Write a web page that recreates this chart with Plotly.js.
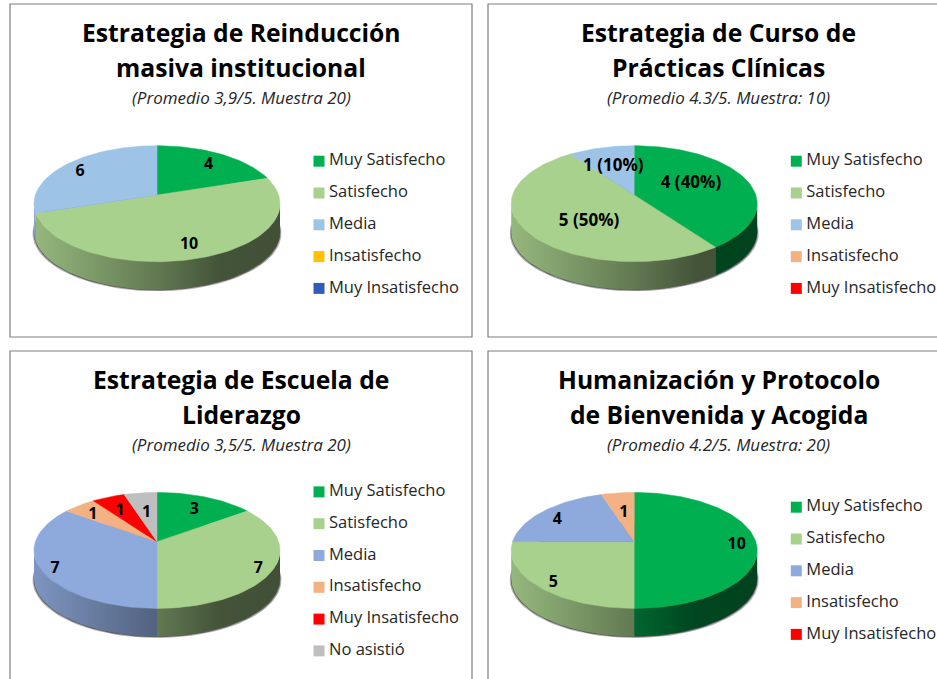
<!DOCTYPE html>
<html><head><meta charset="utf-8">
<script src="https://cdn.plot.ly/plotly-3.0.1.min.js"></script>
<style>html,body{margin:0;padding:0;background:#fff;overflow:hidden}#g{width:937px;height:679px}</style>
</head><body><div id="g"></div>
<script>
// ---- data ----
const categoriesA = ["Muy Satisfecho","Satisfecho","Media","Insatisfecho","Muy Insatisfecho"];
const categoriesC = ["Muy Satisfecho","Satisfecho","Media","Insatisfecho","Muy Insatisfecho","No asistió"];
const valuesReinduccion = [4,10,6,0,0];
const valuesPracticas   = [4,5,1,0,0];
const valuesLiderazgo   = [3,7,7,1,1,1];
const valuesHumanizacion= [10,5,4,1,0];
const colorsReinduccion = ["#00B050","#A9D18E","#9DC3E6","#FFC000","#2F5DB5"];
const colorsPracticas   = ["#00B050","#A9D18E","#9DC3E6","#F4B183","#FF0000"];
const colorsLiderazgo   = ["#00B050","#A9D18E","#8EA9DB","#F4B183","#FF0000","#BFBFBF"];
const colorsHumanizacion= ["#00B050","#A9D18E","#8EA9DB","#F4B183","#FF0000"];
const titleReinduccion = ["Estrategia de Reinducción","masiva institucional"];
const titlePracticas   = ["Estrategia de Curso de","Prácticas Clínicas"];
const titleLiderazgo   = ["Estrategia de Escuela de","Liderazgo"];
const titleHumanizacion= ["Humanización y Protocolo","de Bienvenida y Acogida"];
const subReinduccion = "(Promedio 3,9/5. Muestra 20)";
const subPracticas   = "(Promedio 4.3/5. Muestra: 10)";
const subLiderazgo   = "(Promedio 3,5/5. Muestra 20)";
const subHumanizacion= "(Promedio 4.2/5. Muestra: 20)";

// ---- layout constants ----
const W=937,H=679,FONT='"Open Sans", "Noto Sans", sans-serif';
const b=121.6,a=56.7,k=0.15,DEPTH=28,RX=123;
const panels=[
 {cats:categoriesA,vals:valuesReinduccion,cols:colorsReinduccion,title:titleReinduccion,sub:subReinduccion,pct:false,
  cx:157,cy:195,tx:241,ty:32.8,lx:319,ly:161.2,box:[10,4,472,337],
  lab:[[.755,1.8],[.79,.8],[.813,-2.2]]},
 {cats:categoriesA,vals:valuesPracticas,cols:colorsPracticas,title:titlePracticas,sub:subPracticas,pct:true,
  cx:634.2,cy:195,tx:718.8,ty:32.8,lx:796.3,ly:161.2,box:[488,4,960,337],
  lab:[[.536,-7.7],[.541,-13.9],[.59,-.4]]},
 {cats:categoriesC,vals:valuesLiderazgo,cols:colorsLiderazgo,title:titleLiderazgo,sub:subLiderazgo,pct:false,
  cx:157,cy:541.7,tx:241,ty:379.5,lx:319,ly:491.9,box:[10,351,472,700],
  lab:[[.715,1],[.89,1.8],[.895,-1.7],[.788,-1.5],[.713,-.8],[.596,0]]},
 {cats:categoriesA,vals:valuesHumanizacion,cols:colorsHumanizacion,title:titleHumanizacion,sub:subHumanizacion,pct:false,
  cx:634.2,cy:541.7,tx:718.8,ty:379.5,lx:796.3,ly:507.2,box:[488,351,960,700],
  lab:[[.839,2.7],[.877,-1.7],[.805,-2.9],[.596,0]]}
];
const ROW=31.8, PX0=-135,PX1=135,PY0=-60,PY1=100;

function proj(deg,r){
  const t=deg*Math.PI/180,u=r*Math.sin(t),v=-r*Math.cos(t),d=1-k*v;
  return [b*u/d,a*v/d];
}
function arc(s,e){const n=Math.max(2,Math.ceil((e-s)/2)),o=[];for(let i=0;i<=n;i++)o.push(s+(e-s)*i/n);return o;}
function shade(hex,f){
  const n=parseInt(hex.slice(1),16);
  return `rgb(${Math.round((n>>16&255)*f)},${Math.round((n>>8&255)*f)},${Math.round((n&255)*f)})`;
}
const WALL0deg=90+Math.asin(k)*180/Math.PI, WALL1deg=270-Math.asin(k)*180/Math.PI;

const traces=[],annotations=[],shapes=[],layout={};
panels.forEach((p,i)=>{
  const id=2*i+1, xP=id===1?'x':'x'+id, yP=id===1?'y':'y'+id, xL='x'+(id+1), yL='y'+(id+1);
  const kx=id===1?'xaxis':'xaxis'+id, ky=id===1?'yaxis':'yaxis'+id;
  layout[kx]={domain:[(p.cx+PX0)/W,(p.cx+PX1)/W],range:[PX0,PX1],visible:false,fixedrange:true,anchor:yP};
  layout[ky]={domain:[1-(p.cy+PY1)/H,1-(p.cy+PY0)/H],range:[PY1,PY0],visible:false,fixedrange:true,anchor:xP};
  const n=p.cats.length, top=p.ly-ROW/2;
  layout['xaxis'+(id+1)]={domain:[(p.lx-10)/W,Math.min(1,(p.lx+20)/W)],range:[-10,20],visible:false,fixedrange:true,anchor:yL};
  layout['yaxis'+(id+1)]={domain:[1-(top+n*ROW)/H,1-top/H],type:'category',categoryorder:'array',categoryarray:p.cats,range:[n-.5,-.5],visible:false,fixedrange:true,anchor:xL};

  const rim=arc(0,360).map(d=>proj(d,1));
  [[1.012,DEPTH+1.6,.35],[1.004,DEPTH+.8,.6]].forEach(([s,off,op])=>{
    traces.push({type:'scatter',mode:'lines',xaxis:xP,yaxis:yP,x:rim.map(q=>q[0]*s),y:rim.map(q=>q[1]+off),
      fill:'toself',fillcolor:`rgba(40,40,40,${op})`,line:{width:0},hoverinfo:'skip',showlegend:false});
  });

  const total=p.vals.reduce((s,v)=>s+v,0);
  let acc=0;
  const spans=p.vals.map(v=>{const s=acc/total*360;acc+=v;return [s,acc/total*360];});

  p.vals.forEach((v,j)=>{
    if(!v)return;
    const s=Math.max(spans[j][0],WALL0deg), e=Math.min(spans[j][1],WALL1deg);
    if(e<=s)return;
    const pts=arc(s,e).map(d=>proj(d,1));
    const xs=pts.map(q=>q[0]).concat(pts.map(q=>q[0]).reverse());
    const ys=pts.map(q=>q[1]).concat(pts.map(q=>q[1]+DEPTH).reverse());
    const c=p.cols[j];
    traces.push({type:'scatter',mode:'lines',xaxis:xP,yaxis:yP,x:xs,y:ys,fill:'toself',line:{width:0},
      fillgradient:{type:'horizontal',start:-RX,stop:RX,
        colorscale:[[0,shade(c,.88)],[.5,shade(c,.58)],[.75,shade(c,.4)],[1,shade(c,.38)]]},
      hoverinfo:'skip',showlegend:false});
  });

  p.vals.forEach((v,j)=>{
    if(!v)return;
    const pts=arc(spans[j][0],spans[j][1]).map(d=>proj(d,1));
    traces.push({type:'scatter',mode:'lines',xaxis:xP,yaxis:yP,
      x:[0].concat(pts.map(q=>q[0]),[0]),y:[0].concat(pts.map(q=>q[1]),[0]),
      fill:'toself',fillcolor:p.cols[j],line:{width:.5,color:p.cols[j]},
      name:p.cats[j],hovertemplate:p.cats[j]+': '+v+'<extra></extra>',showlegend:false});
  });

  const lx=[],ly=[],lt=[];
  let li=0;
  p.vals.forEach((v,j)=>{
    if(!v)return;
    const [r,nudge]=p.lab[li++];
    const q=proj((spans[j][0]+spans[j][1])/2+nudge,r);
    lx.push(q[0]);ly.push(q[1]+1.5);
    lt.push(p.pct?`${v} (${Math.round(v/total*100)}%)`:String(v));
  });
  traces.push({type:'scatter',mode:'text',xaxis:xP,yaxis:yP,x:lx,y:ly,text:lt,textposition:'middle center',
    textfont:{family:FONT,size:p.pct?17:16,color:'#000',weight:700},cliponaxis:false,hoverinfo:'skip',showlegend:false});

  traces.push({type:'scatter',mode:'markers',xaxis:xL,yaxis:yL,x:p.cats.map(()=>0),y:p.cats,
    marker:{symbol:'square',size:11,color:p.cols.slice(0,n),line:{width:0}},cliponaxis:false,hoverinfo:'skip',showlegend:false});
  traces.push({type:'scatter',mode:'text',xaxis:xL,yaxis:yL,x:p.cats.map(()=>10),y:p.cats,text:p.cats,
    textposition:'middle right',textfont:{family:FONT,size:16.5,color:'#262626'},cliponaxis:false,hoverinfo:'skip',showlegend:false});

  shapes.push({type:'rect',xref:'paper',yref:'paper',layer:'below',
    x0:p.box[0]/W,x1:p.box[2]/W,y0:1-p.box[1]/H,y1:1-p.box[3]/H,line:{color:'#7f7f7f',width:1.2},fillcolor:'#fff'});
  p.title.forEach((t,j)=>annotations.push({xref:'paper',yref:'paper',x:p.tx/W,y:1-(p.ty+j*35)/H,xanchor:'center',yanchor:'middle',
    text:'<b>'+t+'</b>',showarrow:false,font:{family:FONT,size:24.7,color:'#000'}}));
  annotations.push({xref:'paper',yref:'paper',x:p.tx/W,y:1-(p.ty+64.5)/H,xanchor:'center',yanchor:'middle',
    text:'<i>'+p.sub+'</i>',showarrow:false,font:{family:FONT,size:17,color:'#262626'}});
});
Object.assign(layout,{width:W,height:H,margin:{l:0,r:0,t:0,b:0},paper_bgcolor:'#fff',plot_bgcolor:'rgba(0,0,0,0)',
  showlegend:false,annotations,shapes,hovermode:'closest'});
Plotly.newPlot('g',traces,layout,{displayModeBar:false,responsive:false});
</script></body></html>
